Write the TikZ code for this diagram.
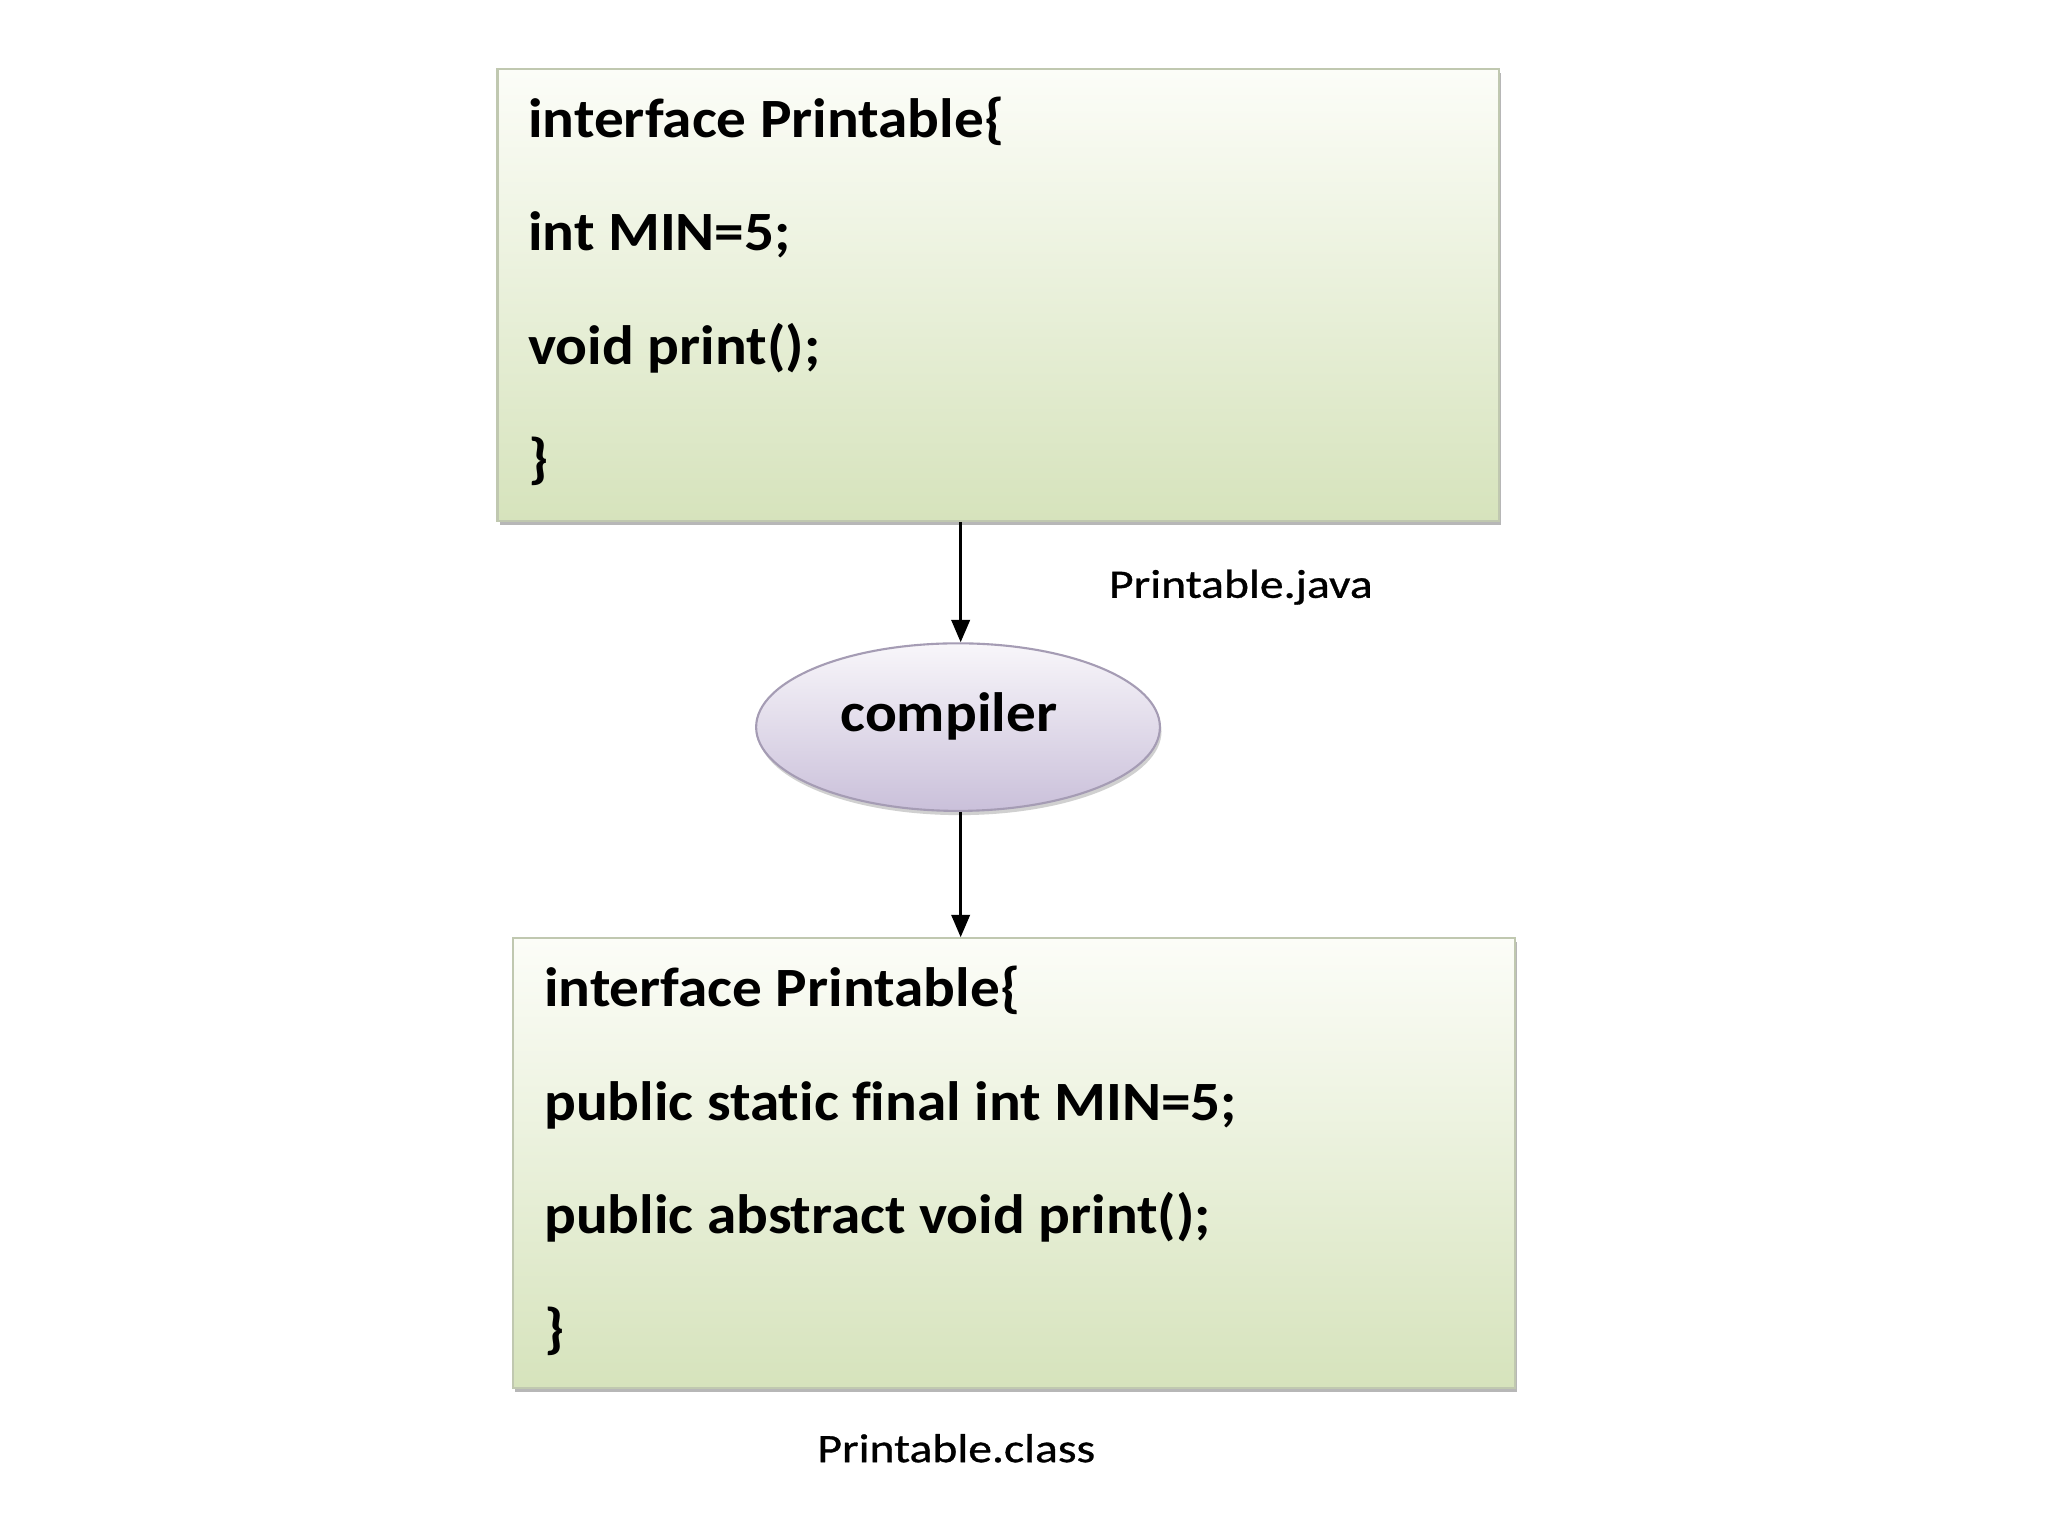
\documentclass[tikz,border=0pt]{standalone}
\usepackage{fontspec}
\setmainfont{Carlito}
\newfontfamily\codefont[FakeStretch=1.07,Ligatures=NoCommon]{Carlito}
\newfontfamily\labelfont[FakeStretch=1.18,FakeBold=0.8,Ligatures=NoCommon]{Carlito}
\usetikzlibrary{shapes.geometric,arrows.meta,shadows}
\definecolor{boxtop}{RGB}{252,253,248}
\definecolor{boxbot}{RGB}{214,227,188}
\definecolor{boxline}{RGB}{192,200,176}
\definecolor{elltop}{RGB}{248,246,250}
\definecolor{ellbot}{RGB}{202,192,218}
\definecolor{ellline}{RGB}{165,156,180}
\tikzset{
  codebox/.style={rectangle, draw=boxline, line width=0.8pt, top color=boxtop, bottom color=boxbot,
    drop shadow={shadow xshift=0.8pt, shadow yshift=-1.6pt, fill=black!40, opacity=0.7},
    inner sep=0pt},
  codeline/.style={anchor=base west, inner sep=0pt, font=\codefont\fontsize{21}{25}\selectfont\bfseries},
  filelabel/.style={anchor=base west, inner sep=0pt, font=\labelfont\fontsize{15.3}{18}\selectfont},
  comp/.style={ellipse, draw=ellline, line width=0.8pt, top color=elltop, bottom color=ellbot,
    drop shadow={shadow xshift=0.6pt, shadow yshift=-1.6pt, fill=black!30, opacity=0.6},
    inner sep=0pt},
  flow/.style={line width=1pt, -{Triangle[length=8.5pt,width=7pt]}}
}
\begin{document}
\begin{tikzpicture}[x=0.5pt,y=-0.5pt]
\useasboundingbox[fill=white] (0,0) rectangle (1552,1164);
% top box
\node[codebox, minimum width=379.5pt, minimum height=171.5pt] (src) at (756.5,223.5) {};
\node[codeline] (s1) at (400,104) {interface Printable\{};
\node[codeline] (s2) at (400,190) {int MIN=5;};
\node[codeline] (s3) at (400,276) {void print();};
\node[codeline] (s4) at (400,362) {\}};
% compiler
\node[comp, minimum width=153pt, minimum height=63.5pt] (cmp) at (726,551) {};
\node[anchor=base, inner sep=0pt, font=\codefont\fontsize{21}{25}\selectfont\bfseries] (ct) at (719,554) {compiler};
% bottom box
\node[codebox, minimum width=379.5pt, minimum height=170.5pt] (cls) at (768.5,881.5) {};
\node[codeline] (c1) at (412,763) {interface Printable\{};
\node[codeline] (c2) at (412,849) {public static final int MIN=5;};
\node[codeline] (c3) at (412,935) {public abstract void print();};
\node[codeline] (c4) at (412,1021) {\}};
% labels
\node[filelabel] (jl) at (840,453) {Printable.java};
\node[filelabel] (cl) at (619,1108) {Printable.class};
% arrows
\coordinate (a1s) at (728,394);
\coordinate (a1e) at (728,488);
\coordinate (a2s) at (728,615);
\coordinate (a2e) at (728,710);
\draw[flow] (src.south -| a1s) -- (cmp.north -| a1e);
\draw[flow] (cmp.south -| a2s) -- (cls.north -| a2e);
\end{tikzpicture}
\end{document}
